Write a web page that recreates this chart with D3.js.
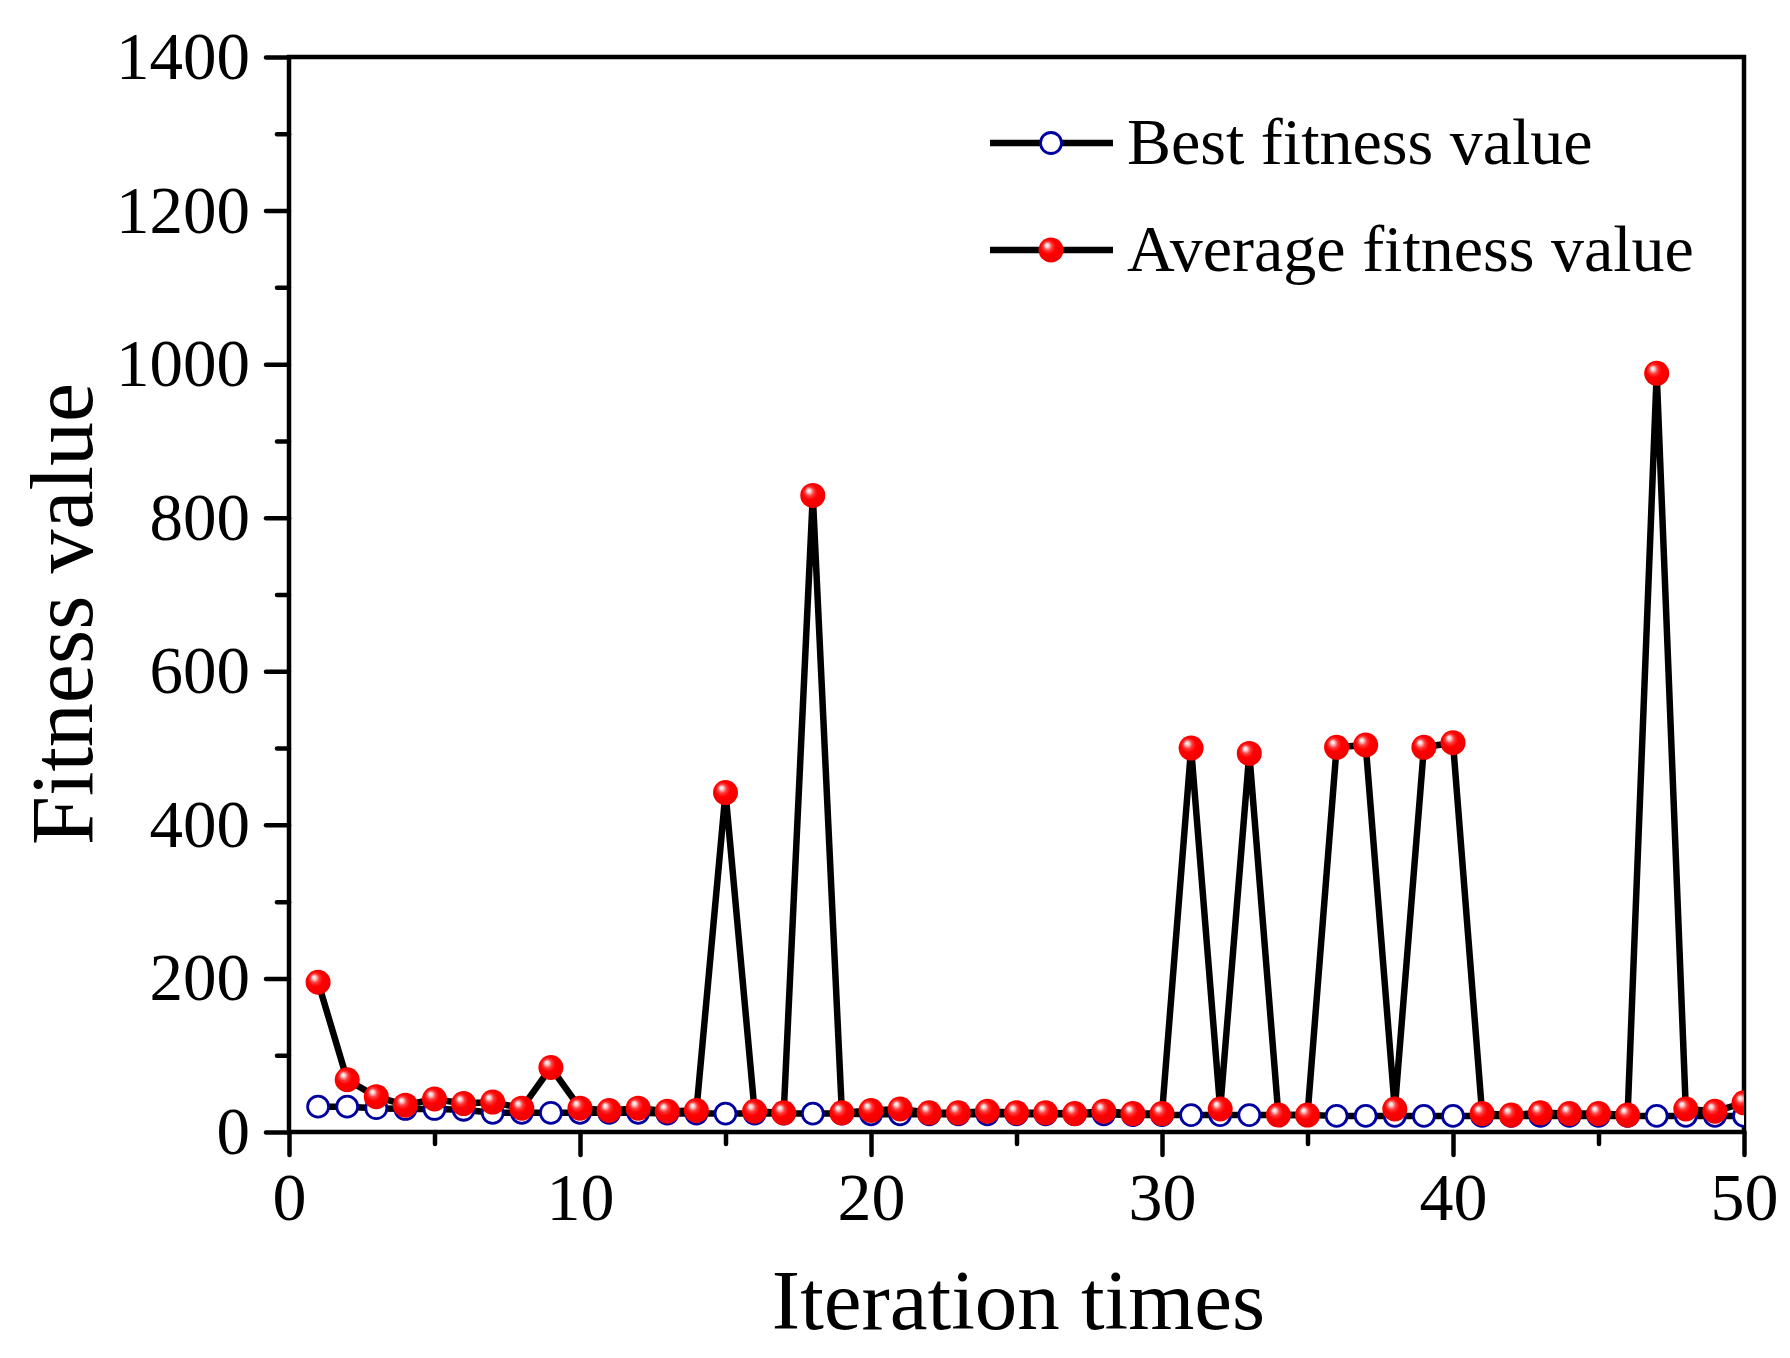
<!DOCTYPE html>
<head>
  <meta charset="utf-8">
  <script src="https://d3js.org/d3.v7.min.js"></script>
  <style>
    body { margin:0; background:#fff; }
    text { font-family: "Liberation Serif", "Times New Roman", serif; }
  </style>
</head>
<body>
  <script>
    // chart data
    var iterations = [1,2,3,4,5,6,7,8,9,10,11,12,13,14,15,16,17,18,19,20,
      21,22,23,24,25,26,27,28,29,30,31,32,33,34,35,36,37,38,39,40,
      41,42,43,44,45,46,47,48,49,50];
    var bestFitness = [33,33,31,30,30,29,25,25,25,25,25,25,24,24,24,24,24,24,24,23,
      23,23,23,23,23,23,23,23,22,22,22,22,22,22,22,21,21,21,21,21,
      21,21,21,21,21,21,21,21,21,21];
    var avgFitness = [195,68,46,35,43,37,39,31,84,31,28,31,27,28,442,27,25,829,25,28,
      30,25,25,27,25,25,24,27,24,24,500,30,493,22,22,501,504,30,501,507,
      24,22,25,24,24,22,988,30,27,38];
    var xTicks = [0,10,20,30,40,50];
    var xMinorTicks = [5,15,25,35,45];
    var yTicks = [0,200,400,600,800,1000,1200,1400];
    var yMinorTicks = [100,300,500,700,900,1100,1300];
    var seriesNames = ["Best fitness value", "Average fitness value"];

    var margin = { top: 57, right: 46, bottom: 226, left: 289 };
    var width = 1790 - margin.left - margin.right;
    var height = 1358 - margin.top - margin.bottom;

    var root = d3.select("body").append("svg")
      .attr("width", 1790)
      .attr("height", 1358);

    var defs = root.append("defs");
    var grad = defs.append("radialGradient")
      .attr("id", "ball")
      .attr("cx", "0.45").attr("cy", "0.45").attr("r", "0.6")
      .attr("fx", "0.33").attr("fy", "0.3");
    grad.append("stop").attr("offset", "0%").attr("stop-color", "#ffffff");
    grad.append("stop").attr("offset", "12%").attr("stop-color", "#ffd0d0");
    grad.append("stop").attr("offset", "30%").attr("stop-color", "#ff3a3a");
    grad.append("stop").attr("offset", "50%").attr("stop-color", "#ff0000");
    grad.append("stop").attr("offset", "100%").attr("stop-color", "#ee0000");

    defs.append("clipPath").attr("id", "plotclip")
      .append("rect").attr("x", 0).attr("y", 0).attr("width", width).attr("height", height);

    var svg = root.append("g")
      .attr("transform", "translate(" + margin.left + "," + margin.top + ")");

    var x = d3.scaleLinear().domain([0, 50]).range([0, width]);
    var y = d3.scaleLinear().domain([0, 1400]).range([height, 0]);

    function styleAxis(g, fontSize) {
      g.attr("font-family", "'Liberation Serif', 'Times New Roman', serif")
        .attr("font-size", fontSize);
      g.selectAll(".tick line").attr("stroke", "#000").attr("stroke-width", 4.5).attr("stroke-linecap", "round");
      g.selectAll(".tick text").attr("fill", "#000");
      g.select(".domain").remove();
    }

    // minor ticks
    svg.append("g")
      .attr("transform", "translate(0," + height + ")")
      .call(d3.axisBottom(x).tickValues(xMinorTicks).tickSize(12).tickFormat(""))
      .call(styleAxis, 68);
    svg.append("g")
      .call(d3.axisLeft(y).tickValues(yMinorTicks).tickSize(12).tickFormat(""))
      .call(styleAxis, 68);

    // major ticks
    svg.append("g")
      .attr("transform", "translate(0," + height + ")")
      .call(d3.axisBottom(x).tickValues(xTicks).tickSize(23).tickPadding(17).tickFormat(d3.format("d")))
      .call(styleAxis, 68);
    svg.append("g")
      .call(d3.axisLeft(y).tickValues(yTicks).tickSize(23).tickPadding(16).tickFormat(d3.format("d")))
      .call(styleAxis, 67);

    // frame
    svg.append("rect")
      .attr("x", 0).attr("y", 0)
      .attr("width", width).attr("height", height)
      .attr("fill", "none")
      .attr("stroke", "#000")
      .attr("stroke-width", 4.5);

    var line = d3.line()
      .x(function(d) { return x(d[0]); })
      .y(function(d) { return y(d[1]); });

    var bestData = iterations.map(function(it, i) { return [it, bestFitness[i]]; });
    var avgData = iterations.map(function(it, i) { return [it, avgFitness[i]]; });

    var plot = svg.append("g").attr("clip-path", "url(#plotclip)");

    plot.append("path")
      .datum(bestData)
      .attr("d", line)
      .attr("fill", "none")
      .attr("stroke", "#000")
      .attr("stroke-width", 6.5)
      .attr("stroke-linejoin", "round");

    plot.append("path")
      .datum(avgData)
      .attr("d", line)
      .attr("fill", "none")
      .attr("stroke", "#000")
      .attr("stroke-width", 6.5)
      .attr("stroke-linejoin", "round");

    plot.selectAll(".best")
      .data(bestData)
      .enter()
      .append("circle")
      .attr("class", "best")
      .attr("cx", function(d) { return x(d[0]); })
      .attr("cy", function(d) { return y(d[1]); })
      .attr("r", 10.5)
      .attr("fill", "#fff")
      .attr("stroke", "#0000a0")
      .attr("stroke-width", 2.8);

    plot.selectAll(".avg")
      .data(avgData)
      .enter()
      .append("circle")
      .attr("class", "avg")
      .attr("cx", function(d) { return x(d[0]); })
      .attr("cy", function(d) { return y(d[1]); })
      .attr("r", 12.5)
      .attr("fill", "url(#ball)");

    // axis titles
    svg.append("text")
      .text("Iteration times")
      .attr("x", width / 2 + 2)
      .attr("y", height + 197)
      .attr("text-anchor", "middle")
      .attr("font-size", 85)
      .attr("fill", "#000");

    root.append("text")
      .text("Fitness value")
      .attr("text-anchor", "middle")
      .attr("font-size", 88)
      .attr("fill", "#000")
      .attr("transform", "translate(92,614) rotate(-90)");

    // legend
    var legend = root.append("g");
    var rows = [143, 250];
    seriesNames.forEach(function(name, i) {
      var ly = rows[i];
      legend.append("line")
        .attr("x1", 990).attr("x2", 1113)
        .attr("y1", ly).attr("y2", ly)
        .attr("stroke", "#000").attr("stroke-width", 6.5);
      if (i === 0) {
        legend.append("circle")
          .attr("cx", 1051).attr("cy", ly).attr("r", 10.5)
          .attr("fill", "#fff").attr("stroke", "#0000a0").attr("stroke-width", 2.8);
      } else {
        legend.append("circle")
          .attr("cx", 1051).attr("cy", ly).attr("r", 12.5)
          .attr("fill", "url(#ball)");
      }
      legend.append("text")
        .text(name)
        .attr("x", 1127)
        .attr("y", ly + 21)
        .attr("font-size", 66)
        .attr("fill", "#000");
    });
  </script>
</body>
